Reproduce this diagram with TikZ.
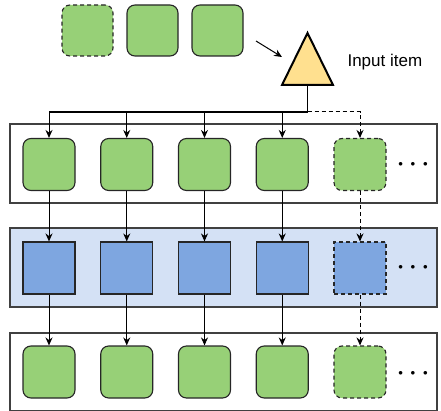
\documentclass[tikz,border=0pt]{standalone}
\usepackage{fontspec}
\setmainfont{Liberation Sans}
\usepackage{xcolor}
\usetikzlibrary{positioning,calc,arrows.meta}

\definecolor{cellgreen}{HTML}{97D077}
\definecolor{unitblue}{HTML}{7EA6E0}
\definecolor{bandblue}{HTML}{D4E1F5}
\definecolor{trigyellow}{HTML}{FFE08F}

\tikzset{
    cell/.style={draw=black!85, fill=cellgreen, rounded corners=8pt, minimum size=52pt, inner sep=0pt, line width=1.1pt},
    unit/.style={draw=black!85, fill=unitblue, minimum size=52pt, inner sep=0pt, line width=1.1pt},
    ghost/.style={dash pattern=on 4pt off 3pt},
    band/.style={draw=black!75, line width=1.2pt, minimum width=427pt, minimum height=79pt, inner sep=0pt},
    flow/.style={-{Stealth[length=8pt,width=7pt]}, line width=1pt},
    dots/.style={font=\fontsize{9}{10}\selectfont, inner sep=0pt}
}

\begin{document}
\begin{tikzpicture}[x=1pt,y=-1pt]
    \useasboundingbox (0,0) rectangle (441,411);

    % Layers
    \node[band] (layer1) at (223.5,163.5) {};
    \node[band, fill=bandblue] (layer2) at (223.5,267.5) {};
    \node[band, minimum height=77.5pt] (layer3) at (223.5,371.75) {};

    % Cells in each layer
    \foreach \i/\st in {1/solid, 2/solid, 3/solid, 4/solid, 5/ghost} {
        \pgfmathsetmacro\cx{49+77.75*(\i-1)}
        \node[cell, \st] (a\i) at (\cx,164.5) {};
        \node[unit, \st] (b\i) at (\cx,268) {};
        \node[cell, \st] (c\i) at (\cx,372) {};
        \draw[flow, \st] (a\i) -- (b\i);
        \draw[flow, \st] (b\i) -- (c\i);
    }
    \node[dots] (more1) at (413,164) {$\bullet\mkern11mu\bullet\mkern11mu\bullet$};
    \node[dots] (more2) at (413,267) {$\bullet\mkern11mu\bullet\mkern11mu\bullet$};
    \node[dots] (more3) at (413,373) {$\bullet\mkern11mu\bullet\mkern11mu\bullet$};

    % Queue of items
    \node[cell, ghost, minimum size=51pt] (q1) at (87.5,30.5) {};
    \node[cell, minimum size=51pt] (q2) at (152.5,30.5) {};
    \node[cell, minimum size=51pt] (q3) at (217.5,30.5) {};

    % Input item
    \coordinate (apex) at (307.5,33);
    \coordinate (base) at (307.5,85);
    \draw[line width=2pt, fill=trigyellow, line join=miter] (282,85) -- (apex) -- (333,85) -- cycle;
    \node[right, font=\fontsize{17}{20}\selectfont] (label) at (344,62) {Input item};
    \coordinate (feed-start) at (256,41);
    \coordinate (feed-end) at (282,57);
    \draw[flow] (feed-start) -- (feed-end);

    % Bus to first layer
    \coordinate (bus) at (307.5,112);
    \draw[line width=1.1pt] (base) -- (bus) -- (bus -| a1);
    \foreach \i in {1,...,4}
        \draw[flow] (bus -| a\i) -- (a\i.north);
    \draw[flow, ghost] (bus) -- (bus -| a5) -- (a5.north);

\end{tikzpicture}
\end{document}
